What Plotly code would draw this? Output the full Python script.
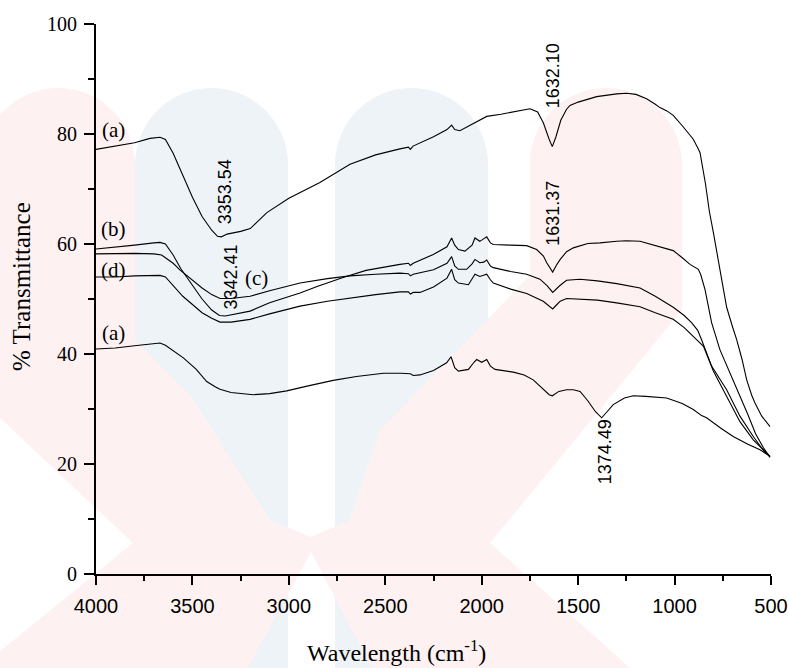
import plotly.graph_objects as go

# ---- FTIR spectra: wavenumber (cm^-1) and % transmittance ----
wn_a_top = [4000, 3900, 3800, 3720, 3668, 3640, 3600, 3550, 3500, 3450, 3400, 3370, 3350, 3320,
            3250, 3200, 3114, 3000, 2942, 2839, 2683, 2550, 2424, 2380, 2370, 2356, 2250, 2180,
            2156, 2140, 2113, 2080, 2035, 2000, 1974, 1900, 1800, 1750, 1710, 1680, 1650, 1634,
            1615, 1590, 1560, 1542, 1500, 1404, 1300, 1249, 1200, 1145, 1100, 1076, 1040, 1007,
            960, 904, 880, 868, 840, 820, 799, 760, 730, 700, 678, 650, 626, 600, 583, 548, 520, 505]
t_a_top = [77.2, 77.8, 78.4, 79.2, 79.4, 79.0, 76.5, 72.5, 68.5, 65.0, 62.5, 61.4, 61.3, 61.8,
           62.3, 62.8, 65.7, 68.3, 69.3, 71.2, 74.5, 76.2, 77.3, 77.6, 77.2, 77.8, 79.5, 80.8,
           81.6, 80.8, 80.6, 81.2, 82.1, 82.6, 83.2, 83.6, 84.2, 84.6, 84.0, 82.0, 79.0, 77.7,
           79.5, 82.5, 84.5, 85.2, 85.8, 86.8, 87.3, 87.4, 87.2, 86.4, 85.4, 84.8, 84.2, 83.4,
           81.5, 79.1, 77.5, 76.6, 71.0, 66.0, 62.1, 54.0, 48.5, 45.0, 42.6, 39.0, 35.3, 32.5,
           31.1, 28.7, 27.5, 26.8]

wn_b = [4000, 3900, 3800, 3700, 3668, 3640, 3600, 3560, 3500, 3450, 3400, 3360, 3330, 3280,
        3201, 3100, 3000, 2942, 2850, 2719, 2600, 2500, 2424, 2380, 2370, 2355, 2251, 2180,
        2156, 2140, 2121, 2087, 2050, 2035, 2010, 2000, 1974, 1955, 1940, 1850, 1767, 1715,
        1680, 1663, 1632, 1610, 1593, 1560, 1525, 1450, 1387, 1300, 1250, 1179, 1100, 1059,
        1007, 960, 920, 877, 865, 842, 808, 765, 713, 661, 620, 580, 540, 505]
t_b = [59.1, 59.4, 59.8, 60.2, 60.3, 60.0, 58.0, 55.5, 52.5, 50.0, 48.0, 47.0, 46.9, 47.2,
       47.8, 49.3, 50.4, 51.1, 52.3, 53.9, 55.2, 55.9, 56.3, 56.5, 56.1, 56.5, 58.1, 59.5,
       61.1, 59.8, 59.0, 58.7, 59.8, 61.1, 60.5, 60.7, 61.3, 60.2, 59.9, 59.8, 59.7, 59.0,
       57.8, 56.6, 54.9, 56.3, 57.2, 58.6, 59.3, 60.1, 60.2, 60.5, 60.6, 60.5, 59.7, 59.3,
       58.8, 57.5, 56.3, 55.4, 54.5, 51.7, 45.7, 40.8, 36.6, 32.5, 29.0, 25.5, 23.0, 21.2]

wn_c = [4000, 3900, 3800, 3700, 3660, 3640, 3600, 3565, 3500, 3450, 3400, 3357, 3300, 3201,
        3100, 2942, 2800, 2683, 2550, 2424, 2380, 2370, 2355, 2250, 2180, 2156, 2140, 2121,
        2078, 2050, 2035, 2010, 1990, 1974, 1955, 1940, 1850, 1767, 1698, 1660, 1632, 1610,
        1593, 1560, 1490, 1400, 1300, 1179, 1100, 1007, 950, 912, 880, 860, 808, 730, 661,
        592, 540, 505]
t_c = [58.2, 58.3, 58.3, 58.2, 58.0, 57.5, 56.5, 55.3, 53.5, 52.0, 50.8, 50.1, 50.1, 50.5,
       51.5, 52.9, 53.7, 54.2, 54.5, 54.7, 54.6, 54.2, 54.5, 55.3, 56.5, 57.7, 56.0, 55.4,
       55.4, 56.4, 57.2, 56.6, 56.7, 57.1, 56.0, 55.7, 55.0, 54.5, 53.6, 52.4, 51.2, 52.0,
       52.5, 53.4, 53.6, 53.3, 52.8, 52.0, 50.5, 48.5, 47.0, 45.7, 44.3, 42.6, 37.8, 33.5,
       28.7, 25.0, 22.5, 21.3]

wn_d = [4000, 3900, 3800, 3700, 3668, 3640, 3600, 3550, 3500, 3450, 3400, 3357, 3300, 3201,
        3100, 2942, 2800, 2683, 2550, 2424, 2380, 2370, 2355, 2320, 2250, 2180, 2156, 2140,
        2121, 2069, 2045, 2035, 2010, 1974, 1955, 1940, 1850, 1767, 1681, 1632, 1610, 1593,
        1560, 1490, 1400, 1300, 1179, 1100, 1007, 950, 903, 850, 799, 730, 661, 592, 540, 505]
t_d = [54.0, 54.0, 54.2, 54.3, 54.3, 54.0, 52.5, 50.5, 49.0, 47.5, 46.5, 45.8, 45.8, 46.3,
       47.3, 48.7, 49.6, 50.2, 50.8, 51.3, 51.3, 50.9, 51.2, 51.2, 52.2, 53.8, 55.4, 53.5,
       52.9, 52.6, 53.8, 54.5, 54.1, 54.5, 53.5, 52.9, 51.8, 51.0, 49.6, 48.2, 49.0, 49.6,
       50.1, 50.0, 49.8, 49.3, 48.6, 47.5, 46.3, 44.8, 43.2, 41.4, 36.9, 32.3, 27.7, 24.4,
       22.5, 21.4]

wn_a_bot = [4000, 3900, 3800, 3700, 3668, 3640, 3547, 3480, 3426, 3380, 3357, 3300, 3184, 3100,
            3011, 2900, 2770, 2650, 2510, 2420, 2370, 2355, 2320, 2250, 2182, 2159, 2140, 2121,
            2069, 2040, 2026, 2000, 1974, 1955, 1931, 1836, 1780, 1733, 1680, 1650, 1634, 1600,
            1560, 1525, 1490, 1450, 1410, 1378, 1350, 1318, 1260, 1214, 1150, 1041, 960, 903,
            860, 834, 760, 696, 620, 557, 505]
t_a_bot = [40.9, 41.1, 41.5, 41.9, 42.0, 41.6, 39.3, 37.2, 35.0, 34.0, 33.6, 33.0, 32.6, 32.8,
           33.3, 34.2, 35.2, 35.9, 36.5, 36.5, 36.4, 36.1, 36.2, 37.0, 38.4, 39.5, 37.5, 36.9,
           37.2, 38.5, 39.0, 38.5, 39.0, 37.8, 37.2, 36.7, 36.2, 35.3, 33.5, 32.6, 32.4, 33.2,
           33.5, 33.5, 33.2, 31.5, 29.5, 28.4, 29.5, 30.8, 32.0, 32.4, 32.3, 32.0, 31.0, 29.9,
           28.8, 28.4, 26.5, 25.0, 23.6, 22.6, 21.4]

# ---- curve labels and peak annotations ----
curve_labels = ["(a)", "(b)", "(d)", "(a)", "(c)"]
curve_label_wn = [3907, 3907, 3907, 3907, 3170]
curve_label_t = [80.7, 62.7, 55.3, 43.8, 53.8]

peak_labels = ["3353.54", "3342.41", "1632.10", "1631.37", "1374.49"]
peak_label_wn = [3331, 3300, 1630, 1630, 1361]
peak_label_t = [69.4, 53.9, 90.5, 65.5, 22.3]

x_ticks = [4000, 3500, 3000, 2500, 2000, 1500, 1000, 500]
y_ticks = [0, 20, 40, 60, 80, 100]

SERIF = "Liberation Serif, Times New Roman, serif"
SANS = "Liberation Sans, Arial, sans-serif"

fig = go.Figure()
for wn, t in [(wn_a_top, t_a_top), (wn_b, t_b), (wn_c, t_c), (wn_d, t_d), (wn_a_bot, t_a_bot)]:
    fig.add_trace(go.Scatter(x=wn, y=t, mode="lines",
                             line=dict(color="black", width=1.1),
                             showlegend=False, hoverinfo="skip"))

# ---- pale background emblem (drawn in pixel space, converted to paper units) ----
L, R, T, B = 96, 771, 24, 574


def P(px, py):
    return f"{(px - L) / (R - L):.4f},{(B - py) / (B - T):.4f}"


def arch(x0, x1, top, bottom):
    xc = (x0 + x1) / 2
    r = (x1 - x0) / 2
    k = 0.552 * r
    ys = top + r
    return (f"M{P(x0, bottom)} L{P(x0, ys)} "
            f"C{P(x0, ys - k)} {P(xc - k, top)} {P(xc, top)} "
            f"C{P(xc + k, top)} {P(x1, ys - k)} {P(x1, ys)} "
            f"L{P(x1, bottom)} Z")


blue = "#eef3f7"
pink = "#fdf1f1"
shapes = [
    dict(type="path", path=arch(135, 288, 88, 700), xref="paper", yref="paper",
         fillcolor=blue, line=dict(width=0), layer="below"),
    dict(type="path", path=arch(335, 488, 88, 700), xref="paper", yref="paper",
         fillcolor=blue, line=dict(width=0), layer="below"),
]

r_l = (135 + 18) / 2
k_l = 0.552 * r_l
r_r = (682 - 530) / 2
k_r = 0.552 * r_r
pink_path = (
    f"M{P(-18, 700)} L{P(-18, 666)} L{P(133, 543)} L{P(-18, 401)} L{P(-18, 88 + r_l)} "
    f"C{P(-18, 88 + r_l - k_l)} {P(58.5 - k_l, 88)} {P(58.5, 88)} "
    f"C{P(58.5 + k_l, 88)} {P(135, 88 + r_l - k_l)} {P(135, 88 + r_l)} "
    f"L{P(135, 340)} L{P(190, 395)} L{P(270, 520)} L{P(311, 537)} "
    f"L{P(350, 520)} L{P(380, 430)} L{P(487, 320)} L{P(530, 275)} L{P(530, 88 + r_r)} "
    f"C{P(530, 88 + r_r - k_r)} {P(606 - k_r, 88)} {P(606, 88)} "
    f"C{P(606 + k_r, 88)} {P(682, 88 + r_r - k_r)} {P(682, 88 + r_r)} "
    f"L{P(682, 310)} L{P(490, 543)} L{P(666, 700)} L{P(389, 700)} L{P(311, 552)} "
    f"L{P(230, 700)} Z"
)
shapes.append(dict(type="path", path=pink_path, xref="paper", yref="paper",
                   fillcolor=pink, line=dict(width=0), layer="below"))

annotations = []
for txt, x, y in zip(curve_labels, curve_label_wn, curve_label_t):
    annotations.append(dict(x=x, y=y, xref="x", yref="y", text=txt, showarrow=False,
                            font=dict(family=SERIF, size=21, color="black"),
                            xanchor="center", yanchor="middle"))
for txt, x, y in zip(peak_labels, peak_label_wn, peak_label_t):
    annotations.append(dict(x=x, y=y, xref="x", yref="y", text=txt, showarrow=False,
                            textangle=-90,
                            font=dict(family=SANS, size=18, color="black"),
                            xanchor="center", yanchor="middle"))

annotations.append(dict(x=(21 - L) / (R - L), y=(B - 287) / (B - T), xref="paper", yref="paper",
                        text="% Transmittance", showarrow=False, textangle=-90,
                        font=dict(family=SERIF, size=25, color="black"),
                        xanchor="center", yanchor="middle"))
annotations.append(dict(x=(396 - L) / (R - L), y=(B - 651) / (B - T), xref="paper", yref="paper",
                        text="Wavelength (cm<sup>-1</sup>)", showarrow=False,
                        font=dict(family=SERIF, size=24, color="black"),
                        xanchor="center", yanchor="middle"))

fig.update_layout(
    width=788, height=668,
    margin=dict(l=L, r=788 - R, t=T, b=668 - B, pad=0, autoexpand=False),
    paper_bgcolor="white",
    plot_bgcolor="rgba(0,0,0,0)",
    shapes=shapes,
    annotations=annotations,
    showlegend=False,
)
fig.update_xaxes(
    range=[4000, 500], tickvals=x_ticks, ticktext=[str(v) for v in x_ticks],
    showline=True, linecolor="black", linewidth=2, mirror=False, automargin=False,
    ticks="outside", ticklen=9, tickwidth=2, tickcolor="black",
    minor=dict(ticks="outside", ticklen=5, tickwidth=2, tickcolor="black", dtick=250, tick0=500),
    showgrid=False, zeroline=False,
    tickfont=dict(family=SANS, size=20, color="black"), ticklabelstandoff=4,
)
fig.update_yaxes(
    range=[0, 100], tickvals=y_ticks, ticktext=[str(v) for v in y_ticks],
    showline=True, linecolor="black", linewidth=2, mirror=False, automargin=False,
    ticks="outside", ticklen=10, tickwidth=2, tickcolor="black",
    minor=dict(ticks="outside", ticklen=6, tickwidth=2, tickcolor="black", dtick=10, tick0=0),
    showgrid=False, zeroline=False,
    tickfont=dict(family=SERIF, size=20, color="black"), ticklabelstandoff=3,
)

fig.write_html("out.html")
